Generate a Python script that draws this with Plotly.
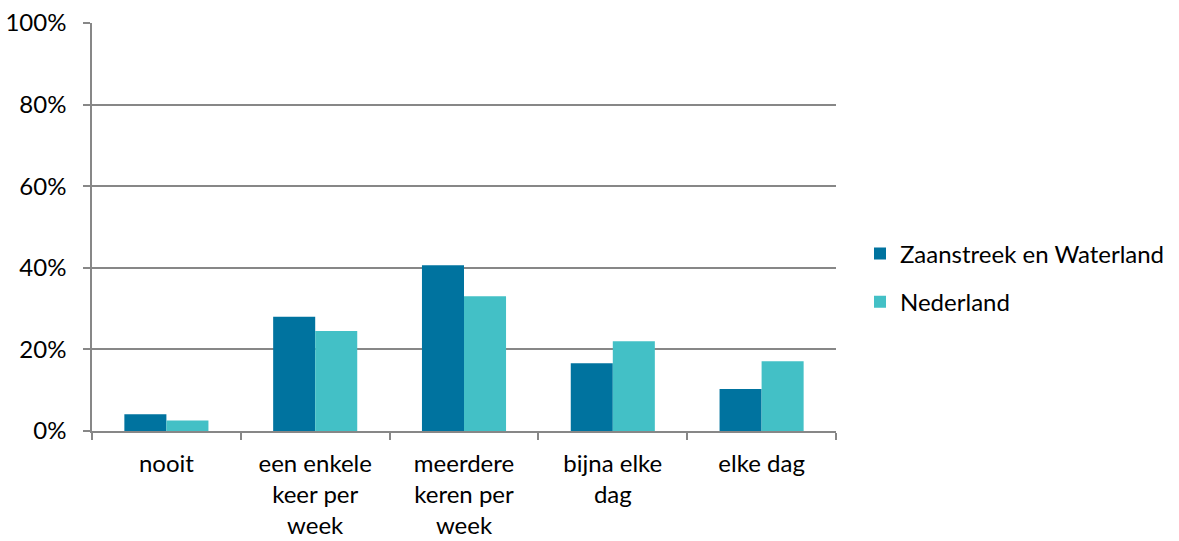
import plotly.graph_objects as go

categories = ["nooit", "een enkele<br>keer per<br>week", "meerdere<br>keren per<br>week", "bijna elke<br>dag", "elke dag"]
zaanstreek = [4.1, 28.0, 40.6, 16.6, 10.3]
nederland = [2.6, 24.5, 33.0, 22.0, 17.1]
series_names = ["Zaanstreek en Waterland", "Nederland"]
colors = ["#00739F", "#43C0C6"]

FONT = "Lato"
fig = go.Figure()
for name, vals, col, grp in zip(series_names, [zaanstreek, nederland], colors, ["a", "b"]):
    fig.add_trace(go.Bar(x=categories, y=vals, name=name, marker=dict(color=col, line=dict(width=0)),
                         legendgroup=grp))

fig.update_layout(
    width=1179, height=541,
    margin=dict(l=92, r=343, t=23, b=110),
    paper_bgcolor="white", plot_bgcolor="white",
    barmode="group", bargap=0.435, bargroupgap=0,
    font=dict(family=FONT, size=24, color="#000000"),
    legend=dict(x=860/1179, xref="container", y=0.375, yanchor="middle", xanchor="left",
                font=dict(size=24), tracegroupgap=14, itemwidth=30),
    showlegend=True,
)
fig.update_xaxes(showline=True, linecolor="#878787", linewidth=1.5, ticks="outside", tickson="boundaries",
                 ticklen=7, tickcolor="#878787", tickwidth=1.5, showgrid=False, tickangle=0,
                 ticklabelstandoff=10, automargin=False)
fig.update_yaxes(range=[0, 100], dtick=20, ticksuffix="%", showline=True, linecolor="#878787", linewidth=1.5,
                 ticks="outside", ticklen=7, tickcolor="#878787", tickwidth=1.5,
                 showgrid=True, gridcolor="#878787", gridwidth=1.5, zeroline=False,
                 ticklabelstandoff=12, automargin=False)
fig.write_html("out.html")
